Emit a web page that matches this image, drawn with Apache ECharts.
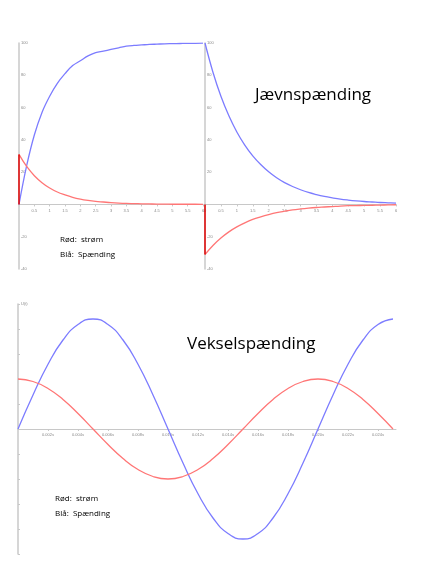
<!DOCTYPE html>
<html>
<head>
<meta charset="utf-8">
<script src="https://cdn.jsdelivr.net/npm/echarts@6/dist/echarts.min.js"></script>
<style>
  html, body { margin: 0; padding: 0; background: #fff; }
  #chart { width: 441px; height: 572px; }
</style>
</head>
<body>
<div id="chart"></div>
<script>
// Tidspunkter for jævnspænding (s)
const dcTimes = [0, 0.25, 0.5, 0.75, 1, 1.25, 1.5, 1.75, 2, 2.25, 2.5, 2.75, 3, 3.25, 3.5, 3.75, 4, 4.25, 4.5, 4.75, 5, 5.25, 5.5, 5.75, 6];
// Opladning
const chargeVoltage = [0, 24, 43, 57, 67, 75, 81, 86, 89, 92, 94, 95, 96, 97, 98, 98.5, 98.8, 99.1, 99.3, 99.5, 99.6, 99.7, 99.8, 99.8, 99.9];
const chargeCurrent = [31, 23.5, 17.8, 13.5, 10.2, 7.7, 5.9, 4.4, 3.3, 2.5, 1.9, 1.5, 1.1, 0.8, 0.6, 0.5, 0.4, 0.3, 0.2, 0.2, 0.1, 0.1, 0.1, 0.1, 0];
// Afladning
const dischargeVoltage = [100, 81.9, 67, 54.9, 44.9, 36.8, 30.1, 24.7, 20.2, 16.5, 13.5, 11.1, 9.1, 7.4, 6.1, 5, 4.1, 3.3, 2.7, 2.2, 1.8, 1.5, 1.2, 1, 0.8];
const dischargeCurrent = [-31, -25.4, -20.8, -17, -13.9, -11.4, -9.3, -7.7, -6.3, -5.1, -4.2, -3.4, -2.8, -2.3, -1.9, -1.6, -1.3, -1, -0.8, -0.7, -0.6, -0.5, -0.4, -0.3, -0.2];

// Vekselspænding (s)
const acTimes = [0, 0.001, 0.002, 0.003, 0.004, 0.005, 0.006, 0.007, 0.008, 0.009, 0.01, 0.011, 0.012, 0.013, 0.014, 0.015, 0.016, 0.017, 0.018, 0.019, 0.02, 0.021, 0.022, 0.023, 0.024, 0.025];
const acVoltage = [0, 1.36, 2.59, 3.56, 4.18, 4.4, 4.18, 3.56, 2.59, 1.36, 0, -1.36, -2.59, -3.56, -4.18, -4.4, -4.18, -3.56, -2.59, -1.36, 0, 1.36, 2.59, 3.56, 4.18, 4.4];
const acCurrent = [2, 1.9, 1.62, 1.18, 0.62, 0, -0.62, -1.18, -1.62, -1.9, -2, -1.9, -1.62, -1.18, -0.62, 0, 0.62, 1.18, 1.62, 1.9, 2, 1.9, 1.62, 1.18, 0.62, 0];

const BLUE = '#7c7cff';
const RED = '#ff7676';
const DARKRED = '#e00000';
const AXIS = '#c8c8c8';
const LABEL = { fontSize: 4, color: '#888' };

const pairs = (xs, ys) => xs.map((x, i) => [x, ys[i]]);

const chart = echarts.init(document.getElementById('chart'));

// x-aksen ligger ved y = 0 (flyttes op med offset)
const dcX = (gi) => ({
  gridIndex: gi, type: 'value', min: 0, max: 6, interval: 0.5,
  offset: -226 * 40 / 140,
  axisLine: { onZero: false, lineStyle: { color: AXIS } },
  axisTick: { show: true, length: 2, lineStyle: { color: AXIS } },
  axisLabel: { ...LABEL, margin: 4, showMinLabel: gi === 1 },
  splitLine: { show: false }
});
const dcY = (gi) => ({
  gridIndex: gi, type: 'value', min: -40, max: 100, interval: 20,
  axisLine: { show: true, onZero: false, lineStyle: { color: AXIS, width: 1.5 } },
  axisTick: { show: false },
  axisLabel: { ...LABEL, inside: true, margin: 2, formatter: v => v === 0 ? '' : String(v) },
  splitLine: { show: false }
});

const line = (xi, data, color, width, smooth) => ({
  type: 'line', xAxisIndex: xi, yAxisIndex: xi, data, showSymbol: false,
  smooth: smooth, lineStyle: { color, width }, itemStyle: { color }, z: 3
});

chart.setOption({
  animation: false,
  grid: [
    { left: 19, top: 43, width: 184, height: 226 },
    { left: 205, top: 43, width: 191, height: 226 },
    { left: 18, top: 304, width: 378, height: 250 }
  ],
  xAxis: [
    dcX(0), dcX(1),
    {
      gridIndex: 2, type: 'value', min: 0, max: 0.0252, interval: 0.002,
      offset: -125,
      axisLine: { onZero: false, lineStyle: { color: AXIS } },
      axisTick: { show: true, length: 2, lineStyle: { color: AXIS } },
      axisLabel: { ...LABEL, margin: 4, showMinLabel: false, showMaxLabel: false, formatter: v => v.toFixed(3) + 's' },
      splitLine: { show: false }
    }
  ],
  yAxis: [
    dcY(0), dcY(1),
    {
      gridIndex: 2, type: 'value', min: -5, max: 5, interval: 1,
      axisLine: { show: true, onZero: false, lineStyle: { color: AXIS, width: 1.5 } },
      axisTick: { show: true, inside: true, length: 2, lineStyle: { color: AXIS } },
      axisLabel: { ...LABEL, inside: true, margin: 3, formatter: v => v === 5 ? 'U(t)' : '' },
      splitLine: { show: false }
    }
  ],
  series: [
    line(0, pairs(dcTimes, chargeVoltage), BLUE, 1.3, 0.4),
    line(0, pairs(dcTimes, chargeCurrent), RED, 1.3, 0.4),
    line(0, [[0, 0], [0, chargeCurrent[0]]], DARKRED, 1.5, false),
    line(1, pairs(dcTimes, dischargeVoltage), BLUE, 1.3, 0.4),
    line(1, pairs(dcTimes, dischargeCurrent), RED, 1.3, 0.4),
    line(1, [[0, 0], [0, dischargeCurrent[0]]], DARKRED, 1.5, false),
    line(2, pairs(acTimes, acVoltage), BLUE, 1.3, 0.5),
    line(2, pairs(acTimes, acCurrent), RED, 1.3, 0.5)
  ],
  graphic: [
    { type: 'text', left: 255, top: 87, style: { text: 'Jævnspænding', font: '17px "Open Sans", sans-serif', fill: '#000' } },
    { type: 'text', left: 187, top: 336, style: { text: 'Vekselspænding', font: '17px "Open Sans", sans-serif', fill: '#000' } },
    { type: 'text', left: 60, top: 236, style: { text: 'Rød:  strøm', font: '8px "Open Sans", sans-serif', fill: '#000' } },
    { type: 'text', left: 60, top: 251, style: { text: 'Blå:  Spænding', font: '8px "Open Sans", sans-serif', fill: '#000' } },
    { type: 'text', left: 55, top: 495, style: { text: 'Rød:  strøm', font: '8px "Open Sans", sans-serif', fill: '#000' } },
    { type: 'text', left: 55, top: 510, style: { text: 'Blå:  Spænding', font: '8px "Open Sans", sans-serif', fill: '#000' } }
  ]
});
</script>
</body>
</html>
